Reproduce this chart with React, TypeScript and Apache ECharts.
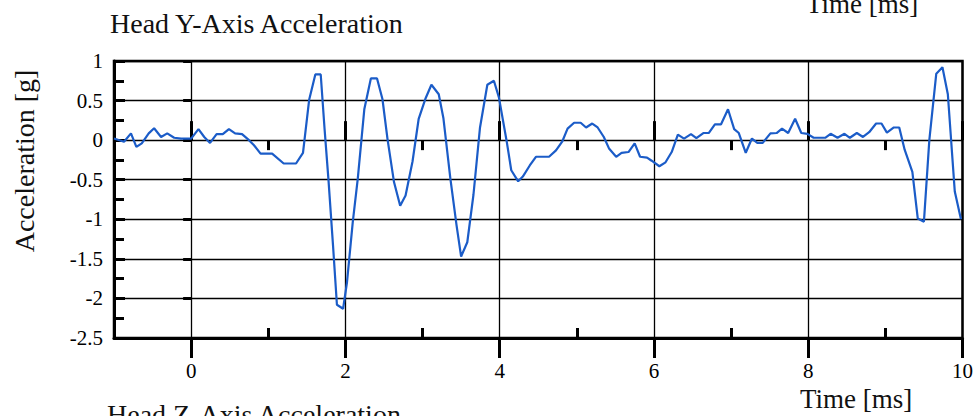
import React, { useEffect, useRef } from "react";
import * as echarts from "echarts";

const TITLE_TOP = "Head Y-Axis Acceleration";
const TITLE_BOTTOM = "Head Z-Axis Acceleration";
const X_NAME = "Time [ms]";
const Y_NAME = "Acceleration [g]";

const timeMs = [
  -1.0, -0.87, -0.78, -0.71, -0.64, -0.55, -0.48, -0.39, -0.31, -0.22, -0.13, 0.0,
  0.095, 0.17, 0.245, 0.33, 0.41, 0.49, 0.57, 0.66, 0.75, 0.815, 0.9, 1.05, 1.2,
  1.36, 1.45, 1.53, 1.61, 1.68, 1.73, 1.78, 1.84, 1.89, 1.97, 2.02, 2.095, 2.16,
  2.245, 2.33, 2.41, 2.48, 2.545, 2.63, 2.71, 2.78, 2.87, 2.95, 3.04, 3.115, 3.21,
  3.27, 3.36, 3.44, 3.5, 3.58, 3.66, 3.745, 3.84, 3.925, 3.99, 4.09, 4.15, 4.24,
  4.3, 4.39, 4.47, 4.64, 4.73, 4.81, 4.88, 4.965, 5.05, 5.12, 5.2, 5.27, 5.35,
  5.42, 5.51, 5.58, 5.67, 5.75, 5.82, 5.91, 5.97, 6.07, 6.15, 6.23, 6.31, 6.39,
  6.48, 6.55, 6.64, 6.71, 6.79, 6.87, 6.96, 7.04, 7.1, 7.19, 7.27, 7.34, 7.41,
  7.51, 7.59, 7.66, 7.74, 7.83, 7.91, 7.99, 8.07, 8.22, 8.29, 8.38, 8.47, 8.54,
  8.63, 8.71, 8.79, 8.88, 8.95, 9.02, 9.11, 9.18, 9.25, 9.35, 9.42, 9.5, 9.57,
  9.66, 9.74, 9.81, 9.9, 9.98,
];

const accelG = [
  0.02, -0.02, 0.085, -0.085, -0.04, 0.085, 0.15, 0.04, 0.085, 0.03, 0.02, 0.02,
  0.14, 0.04, -0.035, 0.075, 0.075, 0.14, 0.085, 0.075, 0.0, -0.065, -0.17, -0.17, -0.295,
  -0.295, -0.16, 0.51, 0.83, 0.83, 0.14, -0.495, -1.34, -2.08, -2.13, -1.8, -1.04, -0.49,
  0.39, 0.78, 0.78, 0.52, 0.02, -0.53, -0.83, -0.7, -0.27, 0.27, 0.53, 0.7, 0.58,
  0.28, -0.48, -1.07, -1.47, -1.29, -0.69, 0.16, 0.7, 0.75, 0.54, -0.01, -0.38, -0.52,
  -0.46, -0.32, -0.21, -0.21, -0.13, -0.02, 0.145, 0.22, 0.22, 0.16, 0.21, 0.16, 0.04,
  -0.11, -0.21, -0.16, -0.15, -0.04, -0.21, -0.22, -0.26, -0.33, -0.28, -0.15, 0.07, 0.02,
  0.077, 0.026, 0.09, 0.09, 0.2, 0.2, 0.39, 0.14, 0.09, -0.16, 0.02, -0.035, -0.035,
  0.085, 0.09, 0.145, 0.09, 0.27, 0.09, 0.08, 0.03, 0.03, 0.08, 0.03, 0.08, 0.03,
  0.09, 0.04, 0.1, 0.21, 0.21, 0.095, 0.16, 0.16, -0.12, -0.4, -0.99, -1.03, 0.0,
  0.84, 0.92, 0.58, -0.65, -1.0,
];

const xMajorTicks = [0, 2, 4, 6, 8, 10];
const xMinorTicksOut = [-1, 1, 3, 5, 7, 9];
const xMinorTicksIn = [1, 3, 5, 7, 9];

const SERIF = "'Liberation Serif', 'DejaVu Serif', serif";

export default function App() {
  const ref = useRef<HTMLDivElement>(null);

  useEffect(() => {
    document.body.style.margin = "0";
    if (!ref.current) return;
    const chart = echarts.init(ref.current, undefined, { renderer: "svg" });

    const baseX = {
      type: "value",
      min: -1,
      max: 10,
      interval: 1,
      position: "bottom",
      axisLine: { show: false },
      axisLabel: { show: false },
      splitLine: { show: false },
    };
    const tickStyle = { color: "#000", width: 3 };

    chart.setOption({
      animation: false,
      backgroundColor: "#fff",
      grid: {
        left: 114,
        right: 8,
        top: 61,
        bottom: 78,
        show: true,
        borderColor: "#000",
        borderWidth: 2.5,
        backgroundColor: "transparent",
      },
      xAxis: [
        {
          type: "value",
          min: -1,
          max: 10,
          interval: 1,
          position: "bottom",
          axisLine: { show: true, onZero: false, lineStyle: { color: "#000", width: 3 } },
          axisTick: {
            show: true,
            inside: false,
            length: 20,
            customValues: xMajorTicks,
            lineStyle: tickStyle,
          },
          axisLabel: {
            show: true,
            customValues: xMajorTicks,
            margin: 22,
            color: "#000",
            fontFamily: "Liberation Serif",
            fontSize: 21,
          },
          splitLine: { show: true, lineStyle: { color: "#000", width: 1.3 } },
        },
        {
          ...baseX,
          axisTick: { show: true, inside: true, length: 19, customValues: xMajorTicks, lineStyle: tickStyle },
        },
        {
          ...baseX,
          axisTick: { show: true, inside: false, length: 10, customValues: xMinorTicksOut, lineStyle: tickStyle },
        },
        {
          ...baseX,
          axisTick: { show: true, inside: true, length: 10, customValues: xMinorTicksIn, lineStyle: tickStyle },
        },
      ],
      yAxis: [
        {
          type: "value",
          min: -2.5,
          max: 1,
          interval: 0.5,
          position: "left",
          axisLine: { show: true, onZero: false, lineStyle: { color: "#000", width: 3 } },
          axisTick: { show: true, inside: true, length: 11, lineStyle: tickStyle },
          minorTick: { show: true, splitNumber: 2, length: 10, lineStyle: tickStyle },
          axisLabel: {
            show: true,
            margin: 11,
            color: "#000",
            fontFamily: "Liberation Serif",
            fontSize: 21,
          },
          splitLine: { show: true, lineStyle: { color: "#000", width: 1.3 } },
        },
        {
          type: "value",
          min: -2.5,
          max: 1,
          interval: 0.5,
          position: "left",
          axisLine: { show: false },
          axisTick: { show: true, inside: false, length: 8, lineStyle: tickStyle },
          axisLabel: { show: false },
          splitLine: { show: false },
        },
      ],
      series: [
        {
          type: "line",
          xAxisIndex: 0,
          yAxisIndex: 0,
          data: timeMs.map((t, i) => [t, accelG[i]]),
          showSymbol: false,
          symbol: "none",
          lineStyle: { color: "#1b5cc8", width: 2.2 },
          z: 5,
        },
      ],
      graphic: [
        {
          type: "text",
          x: 110,
          y: 23,
          style: {
            text: TITLE_TOP,
            font: `28px ${SERIF}`,
            fill: "#111",
            align: "left",
            verticalAlign: "middle",
          },
        },
        {
          type: "text",
          x: 806,
          y: 4,
          style: {
            text: X_NAME,
            font: `27px ${SERIF}`,
            fill: "#111",
            align: "left",
            verticalAlign: "middle",
          },
        },
        {
          type: "text",
          x: 800,
          y: 399,
          style: {
            text: X_NAME,
            font: `27px ${SERIF}`,
            fill: "#111",
            align: "left",
            verticalAlign: "middle",
          },
        },
        {
          type: "text",
          x: 107,
          y: 414,
          style: {
            text: TITLE_BOTTOM,
            font: `28px ${SERIF}`,
            fill: "#111",
            align: "left",
            verticalAlign: "middle",
          },
        },
        {
          type: "text",
          x: 24,
          y: 161,
          rotation: Math.PI / 2,
          style: {
            text: Y_NAME,
            font: `28px ${SERIF}`,
            fill: "#111",
            align: "center",
            verticalAlign: "middle",
          },
        },
      ],
    });

    return () => chart.dispose();
  }, []);

  return <div ref={ref} style={{ width: 976, height: 416 }} />;
}
